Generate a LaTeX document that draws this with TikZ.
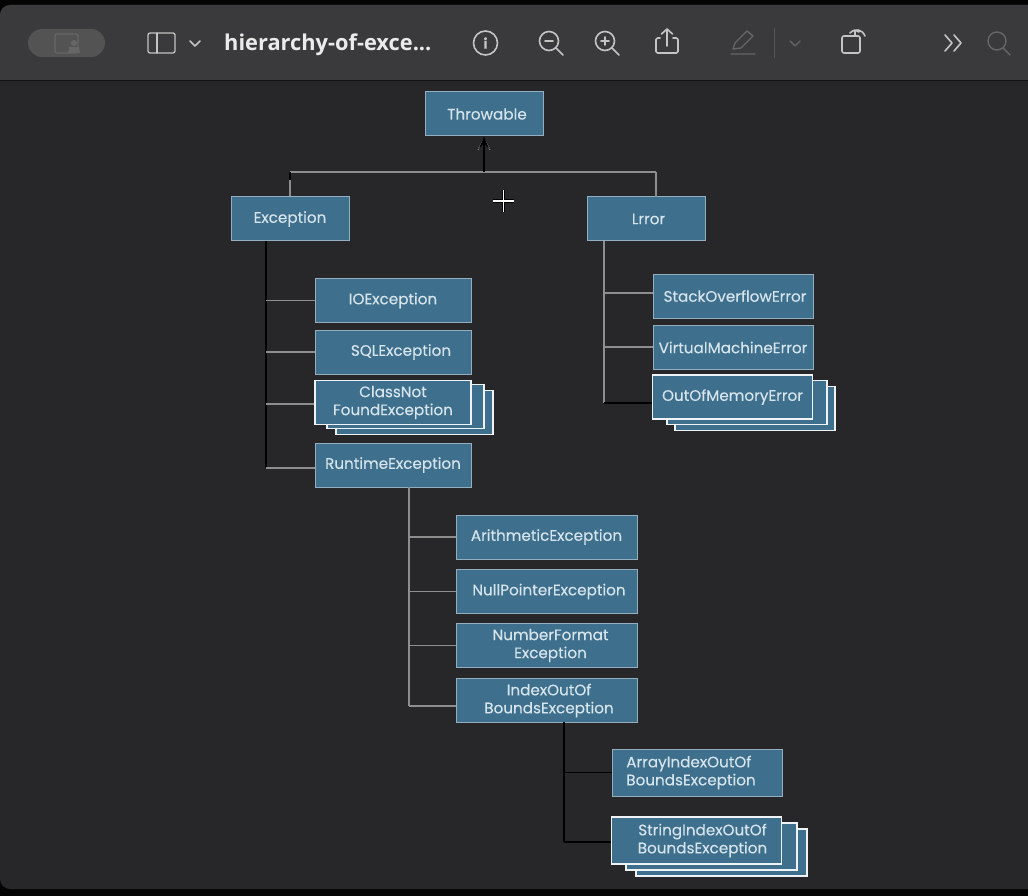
\documentclass[tikz,border=0pt]{standalone}
\usepackage{fontspec}
\setmainfont[FakeBold=0.25]{Poppins}
\newfontfamily\titlefont{Open Sans}
\usetikzlibrary{arrows.meta}
\definecolor{pagebg}{HTML}{272729}
\definecolor{barbg}{HTML}{3A3A3C}
\definecolor{boxfill}{HTML}{3E6F8C}
\definecolor{boxline}{HTML}{93AFBF}
\definecolor{boxtext}{HTML}{D6E4EC}
\definecolor{linkgray}{HTML}{8E8E8E}
\definecolor{icon}{HTML}{C4C4C4}
\definecolor{icondim}{HTML}{666666}
\tikzset{
	box/.style={draw=boxline,line width=1pt,fill=boxfill,text=boxtext,inner sep=0pt,align=center,
		font=\fontsize{15.2}{18}\selectfont},
	wide/.style={box,minimum width=156pt,minimum height=44pt},
	top/.style={box,minimum width=118pt,minimum height=44pt},
	wider/.style={box,minimum width=181pt,minimum height=44pt},
	err/.style={box,minimum width=160pt,minimum height=44pt},
	low/.style={box,minimum width=170pt,minimum height=47pt},
	stacked/.style={draw=white!85!boxline,line width=1.6pt},
	graylink/.style={draw=linkgray,line width=1.8pt},
	blacklink/.style={draw=black,line width=1.6pt},
	iconline/.style={draw=icon,line width=1.6pt,line cap=round,line join=round},
	dimline/.style={draw=icondim,line width=1.4pt,line cap=round,line join=round}
}
\begin{document}
\begin{tikzpicture}[x=1pt,y=-1pt]
	\useasboundingbox (0,0) rectangle (1028,896);
	% Window
	\fill[black!90!pagebg] (0,0) rectangle (1028,896);
	\fill[pagebg,rounded corners=10pt] (0,5) rectangle (1040,889);
	\fill[barbg,rounded corners=10pt] (0,5) rectangle (1040,60);
	\fill[barbg] (0,30) rectangle (1028,80);
	\draw[black!70!barbg,line width=1pt] (0,81) -- (1028,81);
	% Toolbar
	\fill[black!45!icon!50!barbg,rounded corners=14pt] (28,29) rectangle (105,57);
	\draw[draw=icondim,rounded corners=2pt,line width=1.2pt] (55,34) rectangle (78,53);
	\fill[icondim] (74,43) circle (3) (68,53) -- (69,47) -- (79,47) -- (80,53) -- cycle;
	\draw[iconline,rounded corners=2pt,line width=1.3pt] (148,33) rectangle (175,53);
	\draw[iconline,line width=1.3pt] (157,33) -- (157,53);
	\draw[iconline] (190,41) -- (195,46) -- (200,41);
	\node[text=white!92!black,font=\titlefont\bfseries\fontsize{21.8}{24}\selectfont,anchor=west,inner sep=0pt] (title) at (224,45) {hierarchy-of-exce...};
	\node[iconline,circle,minimum size=24pt,inner sep=0pt,text=icon,font=\bfseries\fontsize{14}{14}\selectfont] (info) at (485.5,43) {i};
	\foreach \x in {550,606}{
		\draw[iconline] (\x-1,41) circle (9.5);
		\draw[iconline] (\x+6,48) -- (\x+13,55);
		\draw[iconline] (\x-5,41) -- (\x+3,41);
	}
	\draw[iconline] (605,37) -- (605,45);
	\draw[iconline,rounded corners=1.5pt] (660,38) -- (656,38) -- (656,53) -- (678,53) -- (678,38) -- (673,38);
	\draw[iconline] (667,46) -- (667,29) (661.5,34) -- (667,29) -- (672.5,34);
	\draw[dimline] (733,49) -- (735,43) -- (747,31) -- (753,36) -- (741,48) -- cycle (731,54) -- (755,54);
	\draw[draw=icondim!60!barbg,line width=1pt] (774,28) -- (774,58);
	\draw[dimline] (790,41) -- (795,46) -- (800,41);
	\draw[iconline,rounded corners=2pt] (842,36) rectangle (860,53);
	\draw[iconline] (850,33) .. controls (855,28) and (862,29) .. (865,36) (859,32) -- (855,30) -- (855,35);
	\draw[iconline] (945,35) -- (952,43) -- (945,51) (954,35) -- (961,43) -- (954,51);
	\draw[dimline] (997,41) circle (9) (1003,48) -- (1010,55);
	% Stacks behind the boxes
	\node[wide,stacked,minimum width=157pt] (cnfc) at (414.5,412.5) {};
	\node[wide,stacked,minimum width=157pt] (cnfb) at (405.5,406.5) {};
	\node[err,stacked,minimum width=160pt] (oomc) at (755,408.5) {};
	\node[err,stacked,minimum width=160pt] (oomb) at (747,402.5) {};
	\node[low,stacked,minimum width=171pt] (sioc) at (721.5,852.5) {};
	\node[low,stacked,minimum width=171pt] (siob) at (711.5,846.5) {};
	% Create boxes
	\node[top] (throwable) at (484,114) {\hspace*{6pt}Throwable};
	\node[top] (exception) at (290,219) {\raisebox{-2pt}{Exception}};
	\node[top] (error) at (646.5,219) {\hspace*{4pt}Lrror};
	\node[wide] (ioe) at (393,300.5) {\raisebox{-1pt}{IOException}};
	\node[wide] (sql) at (393,352) {\hspace*{16pt}SQLException};
	\node[wide,stacked] (cnf) at (393,402.5) {ClassNot\\FoundException};
	\node[wide] (rte) at (393,465) {\raisebox{-2pt}{RuntimeException}};
	\node[err] (soe) at (733,296) {\hspace*{4pt}StackOverflowError};
	\node[err] (vme) at (733,347.5) {VirtualMachineError};
	\node[err,stacked] (oom) at (732.5,397) {\raisebox{-1pt}{OutOfMemoryError}};
	\node[wider] (are) at (546.5,537) {ArithmeticException};
	\node[wider] (npe) at (546.5,591.5) {\hspace*{5pt}NullPointerException};
	\node[wider] (nfe) at (546.5,645.5) {\hspace*{8pt}NumberFormat\\\hspace*{8pt}Exception};
	\node[wider] (iob) at (546.5,700.5) {\hspace*{5pt}IndexOutOf\\\hspace*{5pt}BoundsException};
	\node[low,align=left] (aio) at (697,772.5) {\hspace*{-12pt}ArrayIndexOutOf\\\hspace*{-12pt}BoundsException};
	\node[low,stacked] (sio) at (696.5,840.5) {\hspace*{12pt}StringIndexOutOf\\\hspace*{12pt}BoundsException};
	% Top bus
	\coordinate (busl) at (290,172);
	\coordinate (busr) at (656,172);
	\coordinate (busm) at (484,172);
	\coordinate (errdrop) at (656,197);
	\draw[graylink,line width=2.4pt] (busl) -- (busr);
	\draw[graylink] (busl) -- (exception.north);
	\draw[graylink] (busr) -- (errdrop);
	\draw[blacklink,line width=1.2pt] (busl) -- ++(0,8);
	\draw[draw=linkgray,line width=1pt,densely dotted] (478,150) -- (484,138) -- (490,150);
	\draw[blacklink,-{Stealth[length=11pt,width=9pt]}] (busm) -- (throwable.south);
	% Trunks
	\coordinate (exctop) at (266,241);
	\coordinate (excend) at (266,468);
	\coordinate (errtop) at (604,241);
	\coordinate (errend) at (604,403);
	\coordinate (rtetop) at (409,487);
	\coordinate (rteend) at (409,706);
	\coordinate (iobtop) at (564,722);
	\coordinate (iobend) at (564,842);
	\draw[blacklink] (exctop) -- (excend);
	\draw[graylink] (errtop) -- (errend);
	\draw[graylink] (rtetop) -- (rteend);
	\draw[blacklink] (iobtop) -- (iobend);
	% Branches
	\foreach \n/\s in {ioe/0,sql/0,cnf/1.5,rte/3}
		\draw[graylink] ([yshift=-\s pt]\n.west) -- ([yshift=-\s pt]\n.west -| exctop);
	\foreach \n/\s in {soe/-3,vme/-0.5}
		\draw[graylink] ([yshift=-\s pt]\n.west) -- ([yshift=-\s pt]\n.west -| errtop);
	\draw[blacklink] ([yshift=-6pt]oom.west) -- ([yshift=-6pt]oom.west -| errtop);
	\foreach \n/\s in {are/0,npe/0,nfe/0,iob/5.5}
		\draw[graylink] ([yshift=-\s pt]\n.west) -- ([yshift=-\s pt]\n.west -| rtetop);
	\foreach \n/\s in {aio/0,sio/1.5}
		\draw[blacklink] ([yshift=-\s pt]\n.west) -- ([yshift=-\s pt]\n.west -| iobtop);
	% Cursor
	\foreach \c/\w in {black/3.4,white/1.2}
		\draw[draw=\c,line width=\w pt] (493,201) -- (514,201) (503.5,190) -- (503.5,212);
\end{tikzpicture}
\end{document}
